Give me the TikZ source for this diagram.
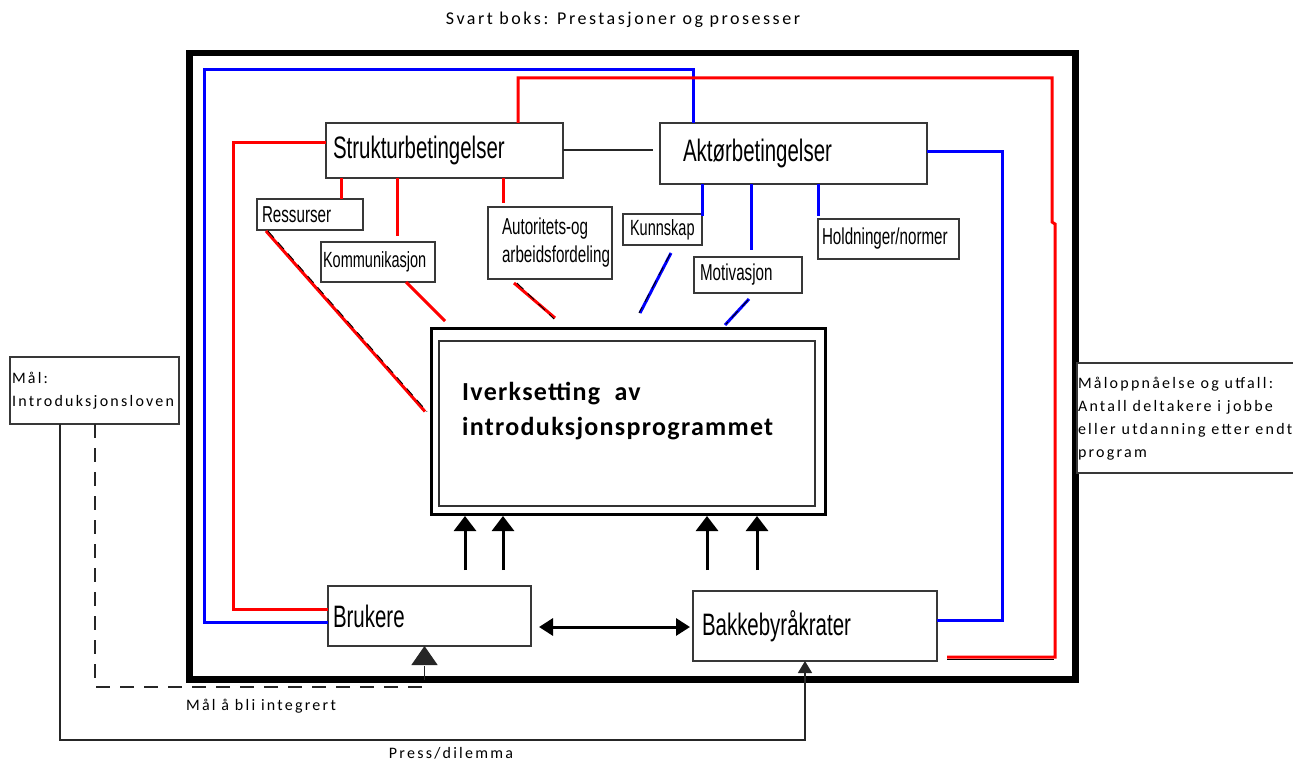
\documentclass[tikz,border=0pt]{standalone}
\usepackage{fontspec}
\usepackage{graphicx}
\setmainfont{Carlito}
\newfontfamily\condf{Liberation Sans}
\newfontfamily\spacedf[LetterSpace=14]{Carlito}
\newfontfamily\mainbf[LetterSpace=5]{Carlito}
\usetikzlibrary{arrows.meta,calc}
\newcommand{\cnd}[2]{\scalebox{0.66}[1]{\fontsize{#1}{#1}\condf #2}}
\newcommand{\bxt}[3]{\makebox[#1][l]{\hspace*{#2}#3}}
\begin{document}
\begin{tikzpicture}[x=1pt,y=-1pt,
  bx/.style={draw=black!78, line width=1.3pt, fill=white, anchor=north west, inner sep=0pt, outer sep=0pt},
  redl/.style={draw=red, line width=3pt},
  bluel/.style={draw=blue, line width=3pt},
  conn/.style={draw=black!85, line width=1.3pt},
  shade/.style={draw=black, line width=0.9pt, dash pattern=on 9pt off 6pt},
  uparr/.style={draw=black, line width=3pt, -{Triangle[width=22pt,length=15pt]}},
  dsh/.style={draw=black!85, line width=1.3pt, dash pattern=on 14pt off 10pt},
  txt/.style={inner sep=0pt, font=\fontsize{16}{23}\spacedf}
]
\useasboundingbox (0,0) rectangle (1293,762);

% frame (black box)
\node[draw=black, line width=6.5pt, minimum width=886pt, minimum height=626pt, anchor=north west, inner sep=0pt] (frame) at (186,50) {};
\node[txt, font=\fontsize{18}{20}\spacedf] (title) at (623,20) {Svart boks: Prestasjoner og prosesser};

% boxes
\node[bx, minimum height=55pt] (strukt) at (326,123) {\bxt{237pt}{7pt}{\cnd{31}{Strukturbetingelser}}};
\node[bx, minimum height=61pt] (akt) at (660,123) {\bxt{267pt}{23pt}{\cnd{31}{Aktørbetingelser}}};
\node[bx, minimum height=31pt] (ress) at (257,199) {\bxt{106pt}{5pt}{\cnd{23}{Ressurser}}};
\node[bx, minimum height=40pt] (komm) at (321,242) {\bxt{114pt}{2pt}{\cnd{22}{Kommunikasjon}}};
\node[bx, minimum height=72pt] (aut) at (488,207) {\bxt{124pt}{14pt}{\scalebox{0.66}[1]{\fontsize{23}{28}\condf\begin{tabular}{@{}l@{}}Autoritets-og\\arbeidsfordeling\end{tabular}}}};
\node[bx, minimum height=31pt] (kunn) at (623,214) {\bxt{79pt}{7pt}{\cnd{22}{Kunnskap}}};
\node[bx, minimum height=36pt] (motiv) at (694,257) {\bxt{108pt}{6pt}{\cnd{23}{Motivasjon}}};
\node[bx, minimum height=40pt] (hold) at (818,219) {\bxt{141pt}{4pt}{\cnd{23}{Holdninger/normer}}};
\node[bx, minimum height=60pt] (bru) at (328,586) {\bxt{203pt}{5pt}{\cnd{31}{Brukere}}};
\node[bx, minimum height=70pt] (bakk) at (693,591) {\bxt{244pt}{9pt}{\cnd{31}{Bakkebyråkrater}}};
\node[bx, minimum height=67pt] (mal) at (10,357) {\bxt{169pt}{2pt}{\fontsize{16}{23}\spacedf\begin{tabular}{@{}l@{}}Mål:\\Introduksjonsloven\end{tabular}}};
\node[bx, minimum height=110pt] (res) at (1077,363) {\bxt{217pt}{1pt}{\fontsize{16}{23}\spacedf\begin{tabular}{@{}l@{}}Måloppnåelse og utfall:\\Antall deltakere i jobbe\\eller utdanning etter endt\\program\end{tabular}}};

% main box
\node[draw=black, line width=3pt, minimum width=394pt, minimum height=186pt, anchor=north west, inner sep=0pt, fill=white] (main) at (430,327) {};
\draw[draw=black!80, line width=1.3pt] ([shift={(9,14)}]main.north west) rectangle ([shift={(-12,-10)}]main.south east);
\node[anchor=base west, inner sep=0pt] (maintxt) at ([shift={(32,73)}]main.north west) {\fontsize{26}{35}\mainbf\bfseries\begin{tabular}[t]{@{}l@{}}Iverksetting\ \ av\\introduksjonsprogrammet\end{tabular}};

% red/blue routing
\coordinate (bt) at (693,70);
\coordinate (bl) at (204,70);
\coordinate (bb) at (204,622);
\draw[bluel] (bt |- akt.north) -- (bt) -- (bl) -- (bb) -- (bb -| bru.west);

\coordinate (rt1) at (518,78);
\coordinate (rt2) at (1052,78);
\coordinate (rt3) at (1052,222);
\coordinate (rt4) at (1055,224);
\coordinate (rt5) at (1055,657);
\draw[black, line width=1.5pt] ($(bakk.south east)+(10,-1.5)$) -- ($(rt5)+(-1,2.5)$);
\draw[redl] (rt1 |- strukt.north) -- (rt1) -- (rt2) -- (rt3) -- (rt4) -- (rt5) -- ($(bakk.south east)+(10,-4)$);

\coordinate (rl1) at (233,143);
\coordinate (rl2) at (233,609);
\draw[redl] (rl1 -| strukt.west) -- (rl1) -- (rl2) -- (rl2 -| bru.west);

\coordinate (br1) at (1002,152);
\coordinate (br2) at (1002,620);
\draw[bluel] (br1 -| akt.east) -- (br1) -- (br2) -- (br2 -| bakk.east);

% struktur - aktør link
\draw[conn] (strukt.east |- 0,150) -- ($(akt.west |- 0,150)+(-7,0)$);

% stubs
\coordinate (s1) at (341,0);
\coordinate (s2) at (397,0);
\coordinate (s3) at (503,0);
\coordinate (s4) at (702,0);
\coordinate (s5) at (751,0);
\coordinate (s6) at (818,0);
\draw[redl] (s1 |- strukt.south) -- (s1 |- ress.north);
\draw[redl] (s2 |- strukt.south) -- ($(s2 |- komm.north)+(0,-6)$);
\draw[redl] (s3 |- strukt.south) -- ($(s3 |- aut.north)+(0,-4)$);
\draw[bluel] (s4 |- akt.south) -- ($(s4 |- kunn.north)+(0,2)$);
\draw[bluel] (s5 |- akt.south) -- ($(s5 |- motiv.north)+(0,-7)$);
\draw[bluel] (s6 |- akt.south) -- ($(s6 |- hold.north)+(0,-3)$);

% diagonals
\draw[redl] ([shift={(9,1)}]ress.south west) -- ($(main.west)+(-5,-10)$);
\draw[shade] ([shift={(11,1)}]ress.south west) -- ($(main.west)+(-3,-10)$);
\draw[redl] ([shift={(28,0)}]komm.south) -- ($(main.north west)+(15,-6)$);
\draw[redl] ([shift={(-36,4)}]aut.south) -- ($(main.north west)+(125,-9)$);
\draw[shade] ([shift={(-33,4)}]aut.south) -- ($(main.north west)+(124,-8)$);
\draw[bluel] ([shift={(8.5,8)}]kunn.south) -- ($(main.north west)+(210,-14)$);
\draw[shade] ([shift={(7.5,9)}]kunn.south) -- ($(main.north west)+(209,-14)$);
\draw[bluel] ([shift={(1,6)}]motiv.south) -- ($(main.north west)+(295,-2)$);
\draw[shade] ([shift={(0,7)}]motiv.south) -- ($(main.north west)+(296,-3)$);

% up arrows into main box
\draw[uparr] ($(main.south west)+(35,54)$) -- ($(main.south west)+(35,0)$);
\draw[uparr] ($(main.south west)+(73,54)$) -- ($(main.south west)+(73,0)$);
\draw[uparr] ($(main.south west)+(277,54)$) -- ($(main.south west)+(277,0)$);
\draw[uparr] ($(main.south west)+(327,54)$) -- ($(main.south west)+(327,0)$);

% double arrow
\draw[draw=black, line width=3pt, {Triangle[width=17pt,length=14pt]}-{Triangle[width=17pt,length=14pt]}] ($(bru.east)+(8,11)$) -- ($(bakk.west)+(-3,1)$);

% dashed and solid feedback
\coordinate (d1) at (95,687);
\draw[dsh, -{Triangle[width=26pt,length=19pt]}] (mal.south -| d1) -- (d1) -| ($(bru.south)+(-5,0)$);
\coordinate (p1) at (60,740);
\draw[conn, -{Triangle[width=14pt,length=12pt]}] (mal.south -| p1) -- (p1) -| ($(bakk.south)+(-10,0)$);

\node[txt] (lab1) at (261,706) {Mål å bli integrert};
\node[txt] (lab2) at (451,753) {Press/dilemma};
\end{tikzpicture}
\end{document}
